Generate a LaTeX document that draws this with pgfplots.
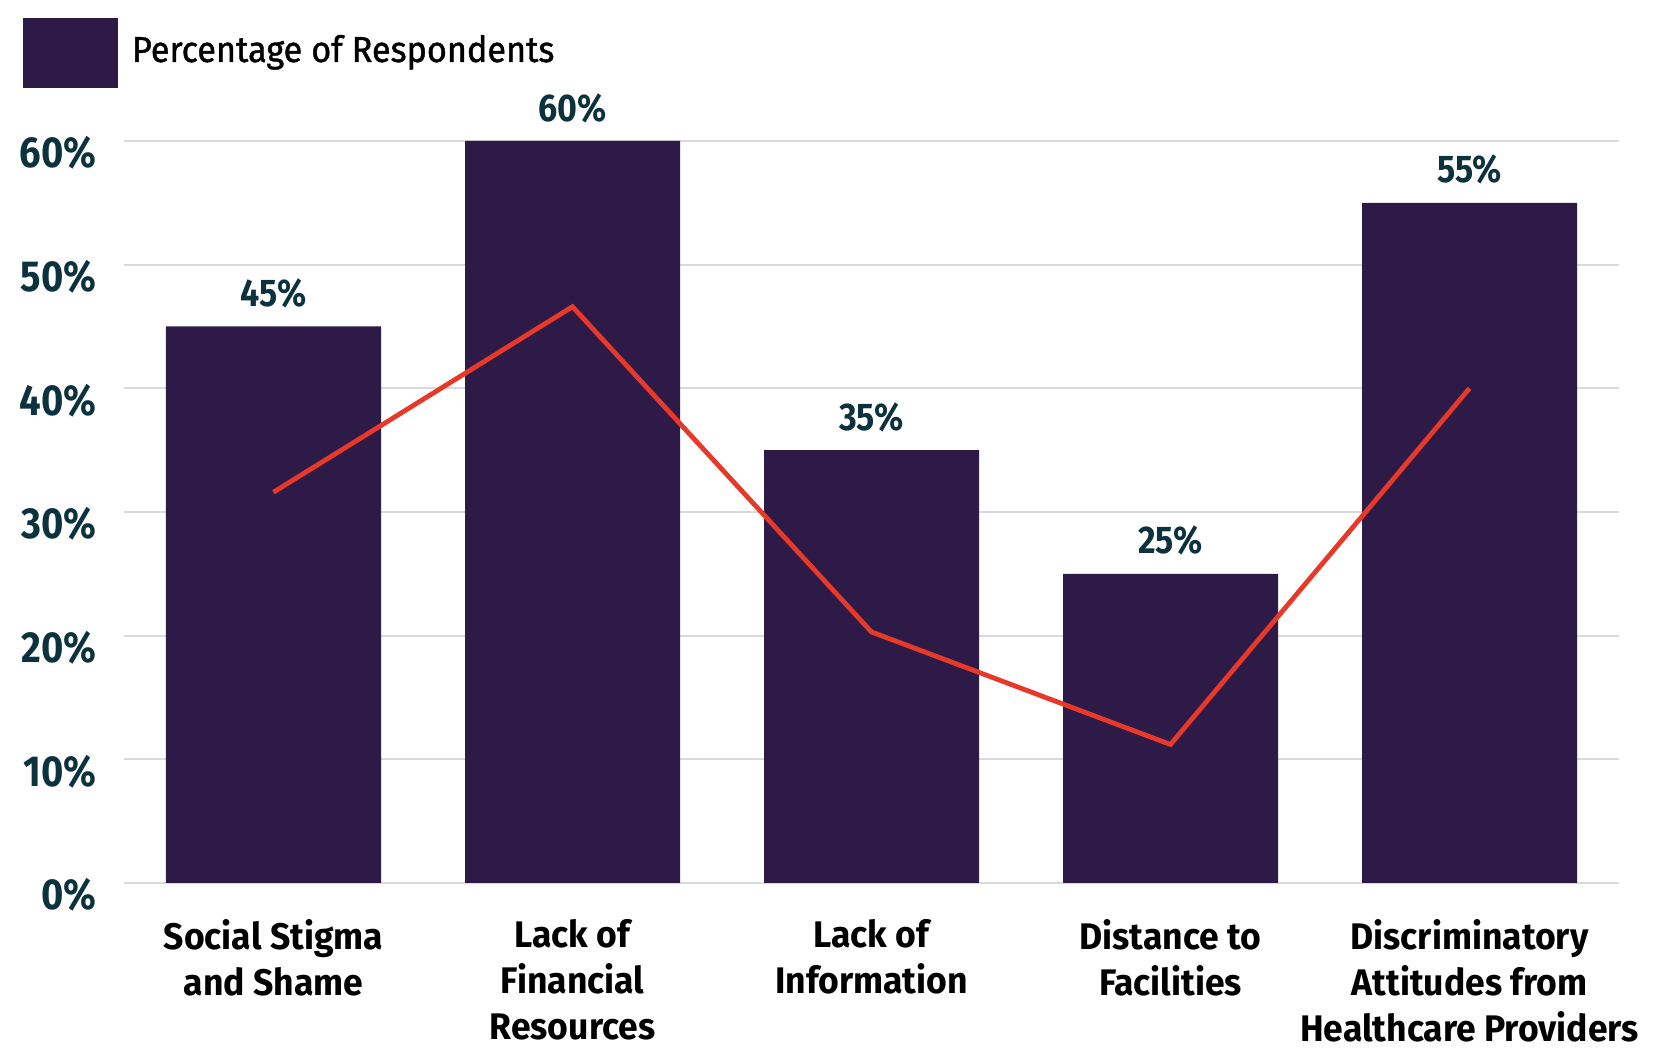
\documentclass[border=0pt]{standalone}
\usepackage{pgfplots}
\pgfplotsset{compat=1.18}
\usepackage{fontspec}
\setmainfont{Fira Sans}[FakeStretch=0.88]
\newfontfamily\catfont{Fira Sans}[FakeStretch=0.96]
\newfontfamily\legfont{Fira Sans}[FakeStretch=0.95, FakeBold=1.2]
\definecolor{barcol}{RGB}{46,26,71}
\definecolor{tickcol}{RGB}{12,50,62}
\definecolor{linecol}{RGB}{230,57,42}
\definecolor{gridcol}{RGB}{218,218,218}
\begin{document}
\begin{tikzpicture}
\begin{axis}[
  at={(62bp,85bp)}, anchor=south west,
  scale only axis, width=747.5bp, height=371bp,
  xmin=-0.5, xmax=4.5, ymin=0, ymax=60,
  axis line style={draw=none},
  clip=false,
  xtick={0,1,2,3,4},
  xticklabels={Social Stigma\\and Shame, Lack of\\Financial\\Resources, Lack of\\Information, Distance to\\Facilities, Discriminatory\\Attitudes from\\Healthcare Providers},
  ytick={0,10,...,60},
  major tick length=0pt,
  ymajorgrids, grid style={gridcol, line width=1bp},
  /pgf/number format/assume math mode=true,
  yticklabel={\pgfmathprintnumber{\tick}\%},
  yticklabel style={font=\fontsize{21.7bp}{26bp}\selectfont\bfseries, text=tickcol, inner sep=0pt, anchor=east, xshift=-13.5bp, yshift=-6bp},
  xticklabel style={font=\catfont\fontsize{18.5bp}{23bp}\selectfont\bfseries, text=black, align=center, inner sep=0pt, anchor=north, yshift=-18bp},
  legend style={at={(axis description cs:-0.06756,1.1658)}, anchor=north west, draw=none, fill=none, inner sep=0pt, outer sep=0pt, column sep=7bp, font=\legfont\fontsize{18bp}{22bp}\selectfont, nodes={inner sep=0pt, yshift=1.5bp}},
  legend cell align=left,
]
\addplot[ybar, bar width=107.5bp, fill=barcol, draw=none,
  nodes near coords={\pgfmathprintnumber{\pgfplotspointmeta}\%},
  nodes near coords style={font=\fontsize{19.3bp}{23bp}\selectfont\bfseries, text=tickcol, inner sep=0pt, anchor=south, yshift=9bp},
  legend image code/.code={\fill[barcol] (0bp,-17.5bp) rectangle (47.5bp,17.5bp);}]
  coordinates {(0,45) (1,60) (2,35) (3,25) (4,55)};
\addlegendentry{Percentage of Respondents}
\addplot[linecol, line width=2.4bp, sharp plot, mark=none, forget plot]
  coordinates {(0,31.6) (1,46.6) (2,20.3) (3,11.2) (4,40.0)};
\end{axis}
\pgfresetboundingbox
\path[use as bounding box] (0,0) rectangle (826.5bp,526.5bp);
\end{tikzpicture}
\end{document}
